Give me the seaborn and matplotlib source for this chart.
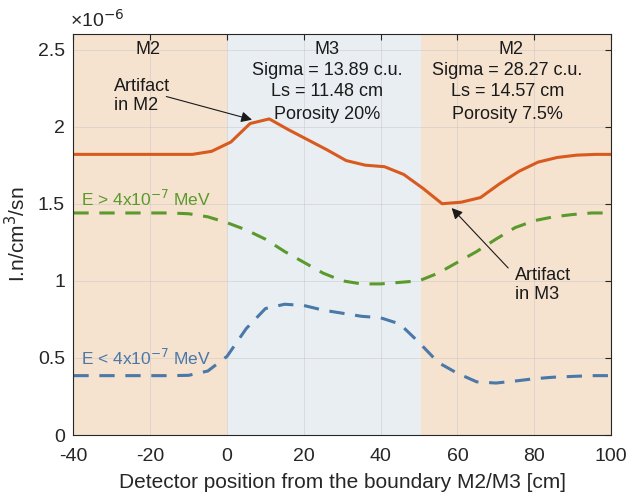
import numpy as np
import pandas as pd
import matplotlib
matplotlib.use("Agg")
import matplotlib.pyplot as plt
import seaborn as sns

# ---- data (values in units of 1e-6) ----
x_total = [-40, -39, -34, -29, -24, -19, -14, -9, -4, 1, 6, 11, 16, 21, 26, 31, 36, 41, 46, 51, 56, 61, 66, 71, 76, 81, 86, 91, 96, 100]
y_total = [1.82, 1.82, 1.82, 1.82, 1.82, 1.82, 1.82, 1.82, 1.84, 1.90, 2.02, 2.05, 1.98, 1.915, 1.85, 1.78, 1.75, 1.74, 1.69, 1.60, 1.50, 1.51, 1.54, 1.63, 1.71, 1.77, 1.80, 1.815, 1.82, 1.82]

x_dash = [-40, -35, -30, -25, -20, -15, -10, -5, 0, 5, 10, 15, 20, 25, 30, 35, 40, 45, 50, 55, 60, 65, 70, 75, 80, 85, 90, 95, 100]
y_fast = [1.44, 1.44, 1.44, 1.44, 1.44, 1.44, 1.435, 1.415, 1.377, 1.33, 1.27, 1.19, 1.12, 1.05, 1.00, 0.98, 0.98, 0.99, 1.00, 1.05, 1.12, 1.19, 1.27, 1.345, 1.39, 1.415, 1.43, 1.44, 1.44]
y_slow = [0.385, 0.385, 0.385, 0.385, 0.385, 0.385, 0.387, 0.415, 0.51, 0.69, 0.82, 0.848, 0.84, 0.81, 0.79, 0.77, 0.76, 0.72, 0.60, 0.47, 0.40, 0.345, 0.337, 0.35, 0.365, 0.375, 0.38, 0.385, 0.385]

zones = [(-40, 0), (0, 50.5), (50.5, 100)]
zone_colors = ["#F5E2CF", "#E9EEF2", "#F5E2CF"]

x_ticks = [-40, -20, 0, 20, 40, 60, 80, 100]
y_ticks = [0, 0.5, 1, 1.5, 2, 2.5]
y_tick_labels = ["0", "0.5", "1", "1.5", "2", "2.5"]

sns.set_theme(style="white")
plt.rcParams['font.family'] = ['Liberation Sans', 'DejaVu Sans']

fig = plt.figure(figsize=(6.3, 4.98), dpi=100)
ax = fig.add_axes([0.1165, 0.1265, 0.8535, 0.805])

for (a, b), c in zip(zones, zone_colors):
    ax.axvspan(a, b, color=c, zorder=0, lw=0)

df_t = pd.DataFrame({"x": x_total, "y": y_total})
df_d = pd.DataFrame({"x": x_dash, "fast": y_fast, "slow": y_slow})

sns.lineplot(data=df_t, x="x", y="y", ax=ax, color="#D95A1E", lw=2.2, zorder=3)
sns.lineplot(data=df_d, x="x", y="fast", ax=ax, color="#5A9A2C", lw=2.2, zorder=3,
             linestyle=(0, (5, 3.5)))
sns.lineplot(data=df_d, x="x", y="slow", ax=ax, color="#4A78A8", lw=2.2, zorder=3,
             linestyle=(0, (5, 3.5)))

ax.set_xlim(-40, 100)
ax.set_ylim(0, 2.6)
ax.set_xticks(x_ticks)
ax.set_xticklabels([str(v) for v in x_ticks])
ax.set_yticks(y_ticks)
ax.set_yticklabels(y_tick_labels)
ax.grid(True, color="#C8C8C8", lw=0.6, alpha=0.6, zorder=1)
for gl in ax.get_xgridlines() + ax.get_ygridlines():
    gl.set_zorder(1)
ax.tick_params(direction="in", length=4, width=0.8, top=True, right=True,
               labelsize=14, color="#262626")
ax.tick_params(axis="x", pad=9)
ax.tick_params(axis="y", pad=6)
for s in ax.spines.values():
    s.set_color("#262626")
    s.set_linewidth(0.8)
    s.set_zorder(5)

ax.set_xlabel("Detector position from the boundary M2/M3 [cm]", fontsize=15, labelpad=6)
ax.set_ylabel("I.n/cm$^3$/sn", fontsize=15, labelpad=6)

ax.text(-41, 2.62, "×10$^{-6}$", fontsize=14, ha="left", va="bottom")

tk = dict(fontsize=13, ha="center", va="center", color="#1A1A1A", zorder=6)
ax.text(-20.5, 2.5, "M2", **tk)
ax.text(26, 2.5, "M3", **tk)
ax.text(26, 2.365, "Sigma = 13.89 c.u.", **tk)
ax.text(26, 2.225, "Ls = 11.48 cm", **tk)
ax.text(26, 2.08, "Porosity 20%", **tk)
ax.text(74, 2.5, "M2", **tk)
ax.text(73, 2.365, "Sigma = 28.27 c.u.", **tk)
ax.text(73, 2.225, "Ls = 14.57 cm", **tk)
ax.text(73, 2.08, "Porosity 7.5%", **tk)

ax.text(-29.5, 2.2, "Artifact\nin M2", fontsize=13, ha="left", va="center",
        linespacing=1.15, color="#1A1A1A", zorder=6)
ax.annotate("", xy=(7.2, 2.04), xytext=(-16.5, 2.2),
            arrowprops=dict(arrowstyle="-|>", color="#1A1A1A", lw=0.8,
                            mutation_scale=16), zorder=6)
ax.text(75, 0.97, "Artifact\nin M3", fontsize=13, ha="left", va="center",
        linespacing=1.15, color="#1A1A1A", zorder=6)
ax.annotate("", xy=(58.0, 1.485), xytext=(73.7, 1.07),
            arrowprops=dict(arrowstyle="-|>", color="#1A1A1A", lw=0.8,
                            mutation_scale=16), zorder=6)

ax.text(-38, 1.53, "E > 4x10$^{-7}$ MeV", fontsize=12.5, ha="left", va="center",
        color="#5A9A2C", zorder=6)
ax.text(-38, 0.5, "E < 4x10$^{-7}$ MeV", fontsize=12.5, ha="left", va="center",
        color="#4A78A8", zorder=6)

fig.savefig("out.png", dpi=100)
